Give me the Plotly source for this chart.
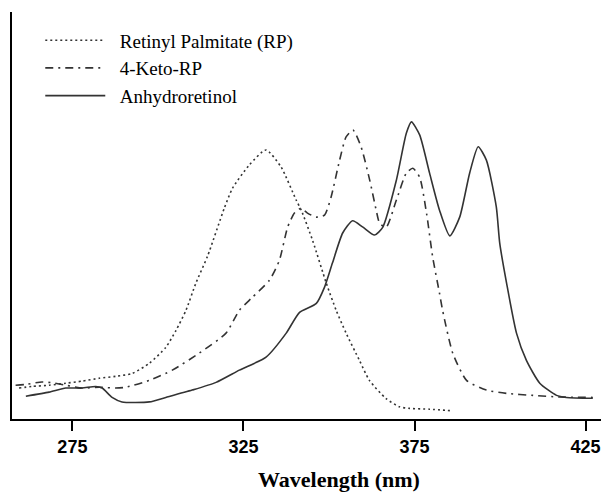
import plotly.graph_objects as go

# Wavelength (nm) and relative absorbance
rp_wl = [259.4, 263.2, 268.2, 273.1, 277.8, 282.8, 287.7, 292.5, 297.5, 302.3, 305.3,
         308.2, 311.1, 314.5, 319.4, 321.8, 326.7, 331.6, 336.0, 340.4, 341.9, 345.2,
         349.2, 352.1, 355.0, 358.9, 361.8, 366.7, 370.6, 373.6, 379.4, 386.2]
rp_abs = [0.076, 0.080, 0.083, 0.088, 0.093, 0.100, 0.105, 0.112, 0.137, 0.176, 0.218,
          0.267, 0.334, 0.400, 0.518, 0.567, 0.624, 0.661, 0.619, 0.538, 0.513, 0.439,
          0.334, 0.267, 0.211, 0.144, 0.095, 0.050, 0.030, 0.026, 0.024, 0.020]

keto_wl = [258.4, 261.4, 266.1, 269.1, 273.1, 277.8, 282.8, 287.7, 290.6, 297.5, 304.2,
           312.1, 319.9, 323.8, 327.6, 332.6, 335.5, 337.9, 339.9, 341.9, 343.7, 346.3,
           348.7, 350.6, 353.1, 355.0, 357.0, 359.4, 361.9, 363.8, 364.8, 366.7, 369.7,
           372.6, 374.5, 376.5, 378.5, 380.3, 382.3, 383.2, 386.2, 390.2, 396.0, 401.9,
           409.6, 417.5, 427.1]
keto_abs = [0.083, 0.085, 0.091, 0.089, 0.083, 0.076, 0.078, 0.076, 0.078, 0.095, 0.120,
            0.162, 0.211, 0.267, 0.299, 0.341, 0.390, 0.471, 0.506, 0.518, 0.506, 0.496,
            0.501, 0.545, 0.636, 0.693, 0.710, 0.668, 0.587, 0.513, 0.481, 0.471, 0.538,
            0.604, 0.616, 0.594, 0.506, 0.398, 0.309, 0.267, 0.161, 0.095, 0.071, 0.063,
            0.058, 0.054, 0.053]

anhy_wl = [261.4, 268.2, 273.1, 277.8, 281.8, 283.7, 286.6, 289.5, 297.5, 302.3, 310.0,
           317.0, 323.8, 331.6, 337.5, 341.4, 346.3, 348.7, 351.0, 354.0, 356.9, 359.8,
           363.3, 365.7, 369.7, 372.6, 374.1, 376.5, 379.4, 382.3, 385.3, 388.2, 391.1,
           393.6, 396.0, 398.9, 399.9, 401.9, 404.8, 407.7, 411.6, 416.5, 419.4, 427.1]
anhy_abs = [0.056, 0.066, 0.076, 0.076, 0.080, 0.076, 0.053, 0.042, 0.042, 0.053, 0.071,
            0.090, 0.120, 0.152, 0.211, 0.262, 0.284, 0.324, 0.383, 0.457, 0.487, 0.472,
            0.452, 0.471, 0.587, 0.702, 0.730, 0.698, 0.604, 0.513, 0.450, 0.496, 0.604,
            0.669, 0.636, 0.521, 0.432, 0.334, 0.211, 0.144, 0.088, 0.058, 0.053, 0.051]

series_names = ["Retinyl Palmitate (RP)", "4-Keto-RP", "Anhydroretinol"]
tick_vals = [275, 325, 375, 425]
x_title = "Wavelength (nm)"

pad = "\u00a0\u00a0"
line_col = "#333333"
fig = go.Figure()
fig.add_trace(go.Scatter(x=rp_wl, y=rp_abs, mode="lines", name=pad + series_names[0],
                         line=dict(color=line_col, width=1.6, dash="2px,3px", shape="spline", smoothing=0.6)))
fig.add_trace(go.Scatter(x=keto_wl, y=keto_abs, mode="lines", name=pad + series_names[1],
                         line=dict(color=line_col, width=1.6, dash="8px,5px,2px,5px", shape="spline", smoothing=0.6)))
fig.add_trace(go.Scatter(x=anhy_wl, y=anhy_abs, mode="lines", name=pad + series_names[2],
                         line=dict(color=line_col, width=1.6, dash="solid", shape="spline", smoothing=0.6)))

fig.update_layout(
    width=601, height=492,
    margin=dict(l=12, r=0, t=12, b=73),
    plot_bgcolor="white", paper_bgcolor="white",
    showlegend=True,
    legend=dict(x=0.048, y=0.977, xanchor="left", yanchor="top",
                bgcolor="rgba(0,0,0,0)", itemwidth=60,
                font=dict(family="Liberation Serif", size=19, color="black")),
    xaxis=dict(range=[257.35, 429.5], tickvals=tick_vals, ticktext=[str(v) for v in tick_vals],
               ticks="outside", ticklen=10, tickwidth=1.5, tickcolor="black",
               showline=True, linewidth=2, linecolor="black", showgrid=False, zeroline=False,
               tickfont=dict(family="Liberation Sans", size=18, color="black", weight="bold")),
    yaxis=dict(range=[0, 1], showline=True, linewidth=2, linecolor="black",
               showgrid=False, zeroline=False, showticklabels=False, ticks=""),
    annotations=[dict(text=x_title, xref="paper", yref="paper", x=0.556, y=-0.149,
                      xanchor="center", yanchor="middle", showarrow=False,
                      font=dict(family="Liberation Serif", size=22, color="black", weight="bold"))],
)

fig.write_html("out.html")
